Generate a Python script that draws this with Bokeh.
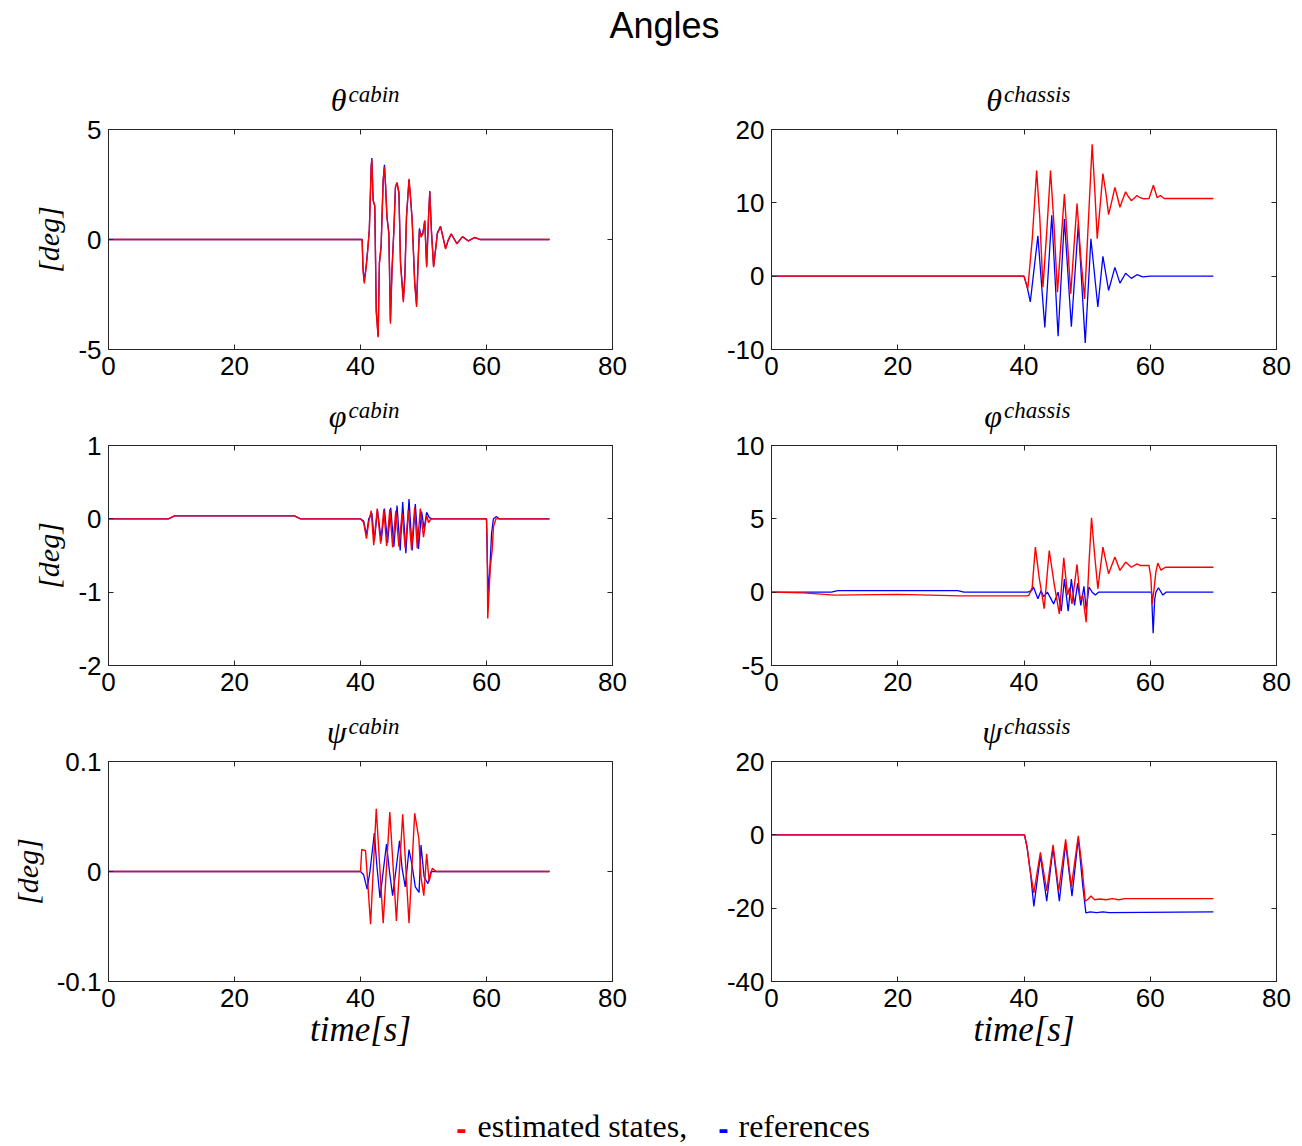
from bokeh.plotting import figure
from bokeh.layouts import column, row
from bokeh.models import FixedTicker, LinearAxis, Range1d
from bokeh.embed import file_html
from bokeh.resources import INLINE
from bokeh.core.properties import value

# ---------------- data ----------------
x_ticks = [0, 20, 40, 60, 80]
x_tick_labels = ["0", "20", "40", "60", "80"]

# theta cabin
th_cab_t = [0, 40.26, 40.4, 40.6, 40.9, 41.1, 41.4, 41.7, 41.8, 42.0, 42.27, 42.5, 42.8, 43.0, 43.27,
            43.6, 43.8, 43.97, 44.2, 44.5, 44.75, 45.0, 45.3, 45.55, 45.8, 46.1, 46.35, 46.8, 47.05,
            47.3, 47.7, 47.95, 48.2, 48.6, 48.9, 49.1, 49.35, 49.6, 49.9, 50.2, 50.5, 50.8, 51.0,
            51.25, 51.6, 51.85, 52.2, 52.7, 53.1, 53.5, 53.9, 54.4, 55.3, 56.2, 57.1, 58.1, 59.0, 70.0]
th_cab_est = [0, 0, -1.41, -2.0, -1.26, -0.65, 0.41, 3.3, 3.62, 1.77, 1.55, -3.3, -4.44, -1.1, -0.35,
              2.68, 3.3, 2.53, 1.0, 0.26, -3.83, -1.41, 0.41, 2.38, 2.6, 2.15, -1.1, -2.85, -1.7,
              1.0, 2.76, 1.92, 0.86, -2.0, -3.07, -1.41, 0.41, 0.11, 0.26, 0.86, -1.26, 1.0, 2.15,
              0.41, -1.26, -0.65, 0.26, 0.59, 0.11, -0.43, -0.05, 0.26, -0.2, 0.14, -0.07, 0.1, 0.0, 0.0]
th_cab_ref = [0, 0, -1.3, -1.9, -1.2, -0.6, 0.45, 3.35, 3.7, 1.8, 1.5, -3.2, -4.4, -1.05, -0.3,
              2.7, 3.4, 2.5, 1.05, 0.3, -3.7, -1.35, 0.45, 2.4, 2.55, 2.1, -1.0, -2.75, -1.6,
              1.05, 2.7, 1.85, 0.9, -1.9, -2.95, -1.3, 0.5, 0.2, 0.3, 0.85, -1.2, 1.05, 2.2,
              0.45, -1.2, -0.6, 0.3, 0.6, 0.1, -0.4, -0.05, 0.25, -0.18, 0.12, -0.06, 0.08, 0.0, 0.0]

# theta chassis
th_ch_est_t = [0, 40.0, 40.6, 41.3, 42.0, 42.5, 43.0, 43.6, 44.2, 44.75, 45.3, 45.85, 46.4, 46.9, 47.4,
               47.9, 48.4, 49.0, 49.6, 50.2, 50.8, 51.2, 51.6, 52.0, 52.5, 53.0, 53.4, 53.9, 54.4,
               54.8, 55.2, 55.6, 56.1, 56.5, 57.0, 57.4, 57.9, 58.4, 59.0, 59.8, 60.5, 61.1, 61.6, 62.2, 70.0]
th_ch_est = [0, 0, -1.7, 5.0, 14.4, 8.0, -1.5, 6.0, 14.4, 7.0, -2.2, 4.5, 11.2, 4.5, -2.4,
             3.8, 9.9, 2.5, -3.1, 7.5, 18.0, 12.0, 5.1, 9.0, 14.0, 11.2, 8.4, 10.2, 12.1,
             10.8, 9.4, 10.4, 11.5, 10.9, 10.3, 10.6, 11.0, 10.7, 10.55, 10.6, 12.4, 10.7, 11.0, 10.6, 10.6]
th_ch_ref_t = [0, 40.0, 40.5, 41.0, 42.2, 43.3, 44.4, 45.4, 46.4, 47.5, 48.6, 49.7, 50.6, 51.7,
               52.5, 53.4, 54.4, 55.2, 56.1, 57.0, 57.9, 58.8, 60.0, 70.0]
th_ch_ref = [0, 0, -1.5, -3.5, 5.5, -7.0, 8.3, -8.2, 7.8, -6.9, 7.1, -9.1, 5.1, -4.2,
             2.7, -1.95, 1.2, -0.95, 0.4, -0.3, 0.2, -0.1, 0.0, 0.0]

# phi cabin
ph_cab_est_t = [0, 9.5, 10.5, 29.5, 30.5, 40.0, 40.5, 40.95, 41.3, 41.7, 42.1, 42.65, 43.2, 43.7, 44.15,
                44.65, 45.1, 45.6, 46.1, 46.6, 47.1, 47.6, 48.1, 48.6, 49.0, 49.5, 50.0, 50.5, 50.8, 51.2,
                60.0, 60.1, 60.2, 60.4, 60.6, 60.9, 61.1, 61.5, 70.0]
ph_cab_est = [0, 0, 0.04, 0.04, 0, 0, -0.05, -0.27, -0.05, 0.11, -0.36, 0.14, -0.34, 0.13, -0.37,
              0.13, -0.39, 0.11, -0.38, 0.08, -0.40, 0.12, -0.42, 0.16, -0.40, 0.14, -0.25, 0.05, -0.05, 0.0,
              0.0, -0.3, -1.36, -1.0, -0.66, -0.43, -0.11, 0.0, 0.0]
ph_cab_ref_t = [0, 9.5, 10.5, 29.5, 30.5, 40.0, 40.5, 40.95, 41.3, 41.8, 42.2, 42.7, 43.3, 43.8, 44.3,
                44.8, 45.3, 45.8, 46.3, 46.7, 47.2, 47.7, 48.2, 48.7, 49.2, 49.7, 50.1, 50.5, 50.9, 51.3,
                60.0, 60.15, 60.3, 60.5, 60.8, 61.1, 61.6, 62.0, 70.0]
ph_cab_ref = [0, 0, 0.04, 0.04, 0, 0, -0.03, -0.22, 0.0, 0.08, -0.30, 0.12, -0.30, 0.14, -0.33,
              0.15, -0.38, 0.18, -0.43, 0.23, -0.47, 0.27, -0.43, 0.20, -0.41, 0.10, -0.14, 0.09, 0.02, 0.0,
              0.0, -0.62, -1.0, -0.75, -0.2, 0.0, 0.03, 0.0, 0.0]

# phi chassis
ph_ch_est_t = [0, 5, 10, 20, 30, 40.5, 40.8, 41.3, 41.8, 42.4, 43.2, 44.0, 44.8, 45.6, 46.3,
               46.9, 47.2, 47.6, 48.4, 48.9, 49.3, 49.85, 50.3, 50.7, 51.2, 51.7, 52.5, 53.4, 54.4, 55.2,
               56.1, 57.0, 57.9, 58.4, 59.8, 60.1, 60.3, 60.6, 60.9, 61.2, 61.7, 62.4, 70.0]
ph_ch_est = [0, -0.05, -0.2, -0.15, -0.25, -0.25, -0.2, 0.34, 3.07, 1.0, -1.13, 2.84, 0.5, -1.48, 2.34,
             -0.2, 0.3, -0.8, 1.89, -0.5, -0.2, -2.05, 2.0, 5.07, 2.5, 0.23, 3.07, 1.25, 2.39, 1.48,
             2.05, 1.7, 1.93, 1.82, 1.82, 1.0, -0.8, 0.2, 1.4, 1.98, 1.5, 1.7, 1.7]
ph_ch_ref_t = [0, 9.5, 10.5, 29.5, 30.5, 40.6, 41.2, 41.5, 42.2, 42.7, 43.1, 43.7, 44.7, 45.4, 45.9,
               46.4, 47.0, 47.5, 48.0, 48.5, 49.0, 49.5, 49.85, 50.3, 50.8, 51.3, 51.8, 60.2, 60.46, 60.7,
               60.9, 61.3, 62.0, 62.5, 70.0]
ph_ch_ref = [0, 0, 0.1, 0.1, 0, 0, 0.1, 0.35, -0.45, 0.1, -0.3, 0.0, -0.8, 0.0, -1.3,
             0.9, -1.3, 0.9, -0.9, 0.6, -0.9, 0.4, -1.2, 0.35, 0.0, -0.2, 0.0, 0.0, -2.8, -0.5,
             0.0, 0.3, -0.2, 0.0, 0.0]

# psi cabin
ps_cab_est_t = [0, 40.0, 40.2, 40.8, 41.6, 42.5, 43.6, 44.65, 45.7, 46.7, 47.7, 48.6, 49.26, 49.6,
                50.05, 50.5, 50.9, 51.4, 52.0, 70.0]
ps_cab_est = [0, 0, 0.02, 0.019, -0.048, 0.057, -0.047, 0.054, -0.045, 0.052, -0.047, 0.053, 0.03, -0.005,
              -0.022, 0.016, -0.009, 0.003, 0.0, 0.0]
ps_cab_ref_t = [0, 40.0, 40.5, 41.05, 41.5, 42.2, 42.6, 43.1, 43.6, 44.13, 44.6, 45.1, 45.6, 46.2, 46.6,
                47.1, 47.7, 48.2, 48.7, 49.3, 49.6, 50.1, 50.7, 51.2, 70.0]
ps_cab_ref = [0, 0, -0.003, -0.016, 0.0, 0.035, 0.005, -0.024, 0.0, 0.025, 0.0, -0.022, 0.0, 0.028, 0.003,
              -0.014, 0.02, 0.005, -0.014, -0.019, 0.024, -0.005, -0.011, 0.0, 0.0]

# psi chassis
ps_ch_est_t = [0, 40.08, 40.5, 40.9, 41.56, 42.6, 43.6, 44.6, 45.5, 46.6, 47.5, 48.6, 49.2, 49.7,
               50.2, 50.6, 51.2, 52.0, 53.0, 54.0, 55.0, 56.0, 70.0]
ps_ch_est = [0, 0, -3.5, -8.9, -15.8, -4.8, -15.3, -2.7, -15.3, -1.2, -14.2, -0.3, -8.9, -18.1,
             -17.5, -16.7, -17.7, -17.5, -17.7, -17.4, -17.7, -17.4, -17.4]
ps_ch_ref_t = [0, 40.08, 40.5, 41.0, 41.56, 42.6, 43.6, 44.6, 45.6, 46.6, 47.6, 48.6, 49.3, 49.8,
               50.5, 51.5, 52.5, 53.5, 70.0]
ps_ch_ref = [0, 0, -3.5, -10.0, -19.5, -5.7, -18.1, -3.5, -18.1, -2.3, -16.7, -0.9, -13.7, -21.3,
             -21.0, -21.2, -21.0, -21.2, -21.0]

panel_symbols = ["θ", "θ", "φ", "φ", "ψ", "ψ"]
panel_supers = ["cabin", "chassis", "cabin", "chassis", "cabin", "chassis"]
panel_yranges = [(-5, 5), (-10, 20), (-2, 1), (-5, 10), (-0.1, 0.1), (-40, 20)]
panel_yticks = [[-5, 0, 5], [-10, 0, 10, 20], [-2, -1, 0, 1], [-5, 0, 5, 10], [-0.1, 0, 0.1], [-40, -20, 0, 20]]
panel_ytick_labels = [["-5", "0", "5"], ["-10", "0", "10", "20"], ["-2", "-1", "0", "1"],
                      ["-5", "0", "5", "10"], ["-0.1", "0", "0.1"], ["-40", "-20", "0", "20"]]
panel_series = [(th_cab_t, th_cab_est, th_cab_t, th_cab_ref),
                (th_ch_est_t, th_ch_est, th_ch_ref_t, th_ch_ref),
                (ph_cab_est_t, ph_cab_est, ph_cab_ref_t, ph_cab_ref),
                (ph_ch_est_t, ph_ch_est, ph_ch_ref_t, ph_ch_ref),
                (ps_cab_est_t, ps_cab_est, ps_cab_ref_t, ps_cab_ref),
                (ps_ch_est_t, ps_ch_est, ps_ch_ref_t, ps_ch_ref)]

for s in panel_series:
    assert len(s[0]) == len(s[1]) and len(s[2]) == len(s[3])

# ---------------- styling ----------------
AX = "#262626"
RED = "#ff0000"
BLUE = "#0000ff"
SANS = "Liberation Sans"
SERIF = "Liberation Serif"

OVERLAP = 14          # title strip overlaps the (transparent) top border of the panel below
col_geom = [dict(width=660, bl=108, br=48, frame=504, off=-14),
            dict(width=634, bl=111, br=18, frame=505, off=-22)]
row_geom = [dict(strip=63, bt=6 + OVERLAP, bb=40),
            dict(strip=50, bt=6 + OVERLAP, bb=40),
            dict(strip=50, bt=6 + OVERLAP, bb=95)]
FRAME_H = 220


def style_axis(ax, ticks, labels):
    ax.ticker = FixedTicker(ticks=ticks)
    ax.major_tick_in = 5
    ax.major_tick_out = 0
    ax.minor_tick_in = 0
    ax.minor_tick_out = 0
    ax.axis_line_color = AX
    ax.major_tick_line_color = AX
    ax.major_label_text_font = SANS
    ax.major_label_text_color = "black"
    if labels is None:
        ax.major_label_overrides = {t: "" for t in ticks}
        ax.major_label_text_font_size = "0px"
        ax.major_label_standoff = 0
    else:
        ax.major_label_overrides = {t: s for t, s in zip(ticks, labels)}
        ax.major_label_text_font_size = "26px"
        ax.major_label_standoff = 7


def make_strip(idx):
    r, c = divmod(idx, 2)
    cg, rg = col_geom[c], row_geom[r]
    s = figure(width=cg["width"], height=rg["strip"], x_range=Range1d(0, cg["width"]),
               y_range=Range1d(0, rg["strip"]), output_backend="svg", toolbar_location=None,
               min_border=0, x_axis_type=None, y_axis_type=None)
    s.outline_line_color = None
    s.grid.visible = False
    s.background_fill_alpha = 0
    s.border_fill_alpha = 0
    xc = cg["bl"] + cg["frame"] / 2 + cg["off"]
    s.text(x=[xc], y=[24], text=[panel_symbols[idx]], text_align="right",
           text_baseline="middle", text_font=value(SERIF), text_font_style="italic",
           text_font_size="32px", text_color="black")
    s.text(x=[xc + 2], y=[29], text=[panel_supers[idx]], text_align="left",
           text_baseline="middle", text_font=value(SERIF), text_font_style="italic",
           text_font_size="23px", text_color="black")
    return s


def make_panel(idx):
    r, c = divmod(idx, 2)
    cg, rg = col_geom[c], row_geom[r]
    et, ev, rt, rv = panel_series[idx]
    yt = panel_yticks[idx]
    p = figure(width=cg["width"], height=rg["bt"] + FRAME_H + rg["bb"],
               x_range=Range1d(0, 80), y_range=Range1d(*panel_yranges[idx]),
               output_backend="svg", toolbar_location=None,
               min_border_left=cg["bl"], min_border_right=cg["br"],
               min_border_top=rg["bt"], min_border_bottom=rg["bb"])
    p.grid.visible = False
    p.outline_line_color = AX
    p.border_fill_alpha = 0
    p.line(rt, rv, line_color=BLUE, line_width=1.3)
    p.line(et, ev, line_color=RED, line_width=1.4)

    bottom = p.xaxis[0]
    left = p.yaxis[0]
    style_axis(bottom, x_ticks, x_tick_labels)
    style_axis(left, yt, panel_ytick_labels[idx])
    top = LinearAxis()
    style_axis(top, x_ticks, None)
    p.add_layout(top, "above")
    right = LinearAxis()
    style_axis(right, yt, None)
    p.add_layout(right, "right")

    if c == 0:
        left.axis_label = "[deg]"
        left.axis_label_text_font = SERIF
        left.axis_label_text_font_style = "italic"
        left.axis_label_text_font_size = "30px"
        left.axis_label_text_color = "black"
        left.axis_label_standoff = 10
    if r == 2:
        bottom.axis_label = "time[s]"
        bottom.axis_label_text_font = SERIF
        bottom.axis_label_text_font_style = "italic"
        bottom.axis_label_text_font_size = "35px"
        bottom.axis_label_text_color = "black"
        bottom.axis_label_standoff = 0
    return p


W = 1294
head = figure(width=W, height=60, x_range=Range1d(0, W), y_range=Range1d(0, 60),
              output_backend="svg", toolbar_location=None, min_border=0,
              x_axis_type=None, y_axis_type=None)
head.outline_line_color = None
head.grid.visible = False
head.text(x=[664], y=[35], text=["Angles"], text_align="center", text_baseline="middle",
          text_font=value(SANS), text_font_size="36px", text_color="black")

LEG_H = 70
leg = figure(width=W, height=LEG_H, x_range=Range1d(0, W), y_range=Range1d(0, LEG_H),
             output_backend="svg", toolbar_location=None, min_border=0,
             x_axis_type=None, y_axis_type=None)
leg.outline_line_color = None
leg.grid.visible = False
leg.text(x=[461], y=[19], text=["-"], text_align="center", text_baseline="middle",
         text_font=value(SANS), text_font_style="bold", text_font_size="31px", text_color=RED)
leg.text(x=[477], y=[21], text=["estimated states,"], text_align="left", text_baseline="middle",
         text_font=value(SERIF), text_font_size="32px", text_color="black")
leg.text(x=[723], y=[19], text=["-"], text_align="center", text_baseline="middle",
         text_font=value(SANS), text_font_style="bold", text_font_size="31px", text_color=BLUE)
leg.text(x=[738], y=[21], text=["references"], text_align="left", text_baseline="middle",
         text_font=value(SERIF), text_font_size="32px", text_color="black")

items = [head]
for r in range(3):
    items.append(row(make_strip(2 * r), make_strip(2 * r + 1), margin=(0, 0, -OVERLAP, 0)))
    items.append(row(make_panel(2 * r), make_panel(2 * r + 1)))
items.append(leg)
layout = column(*items)

open("out.html", "w").write(file_html(layout, INLINE))
